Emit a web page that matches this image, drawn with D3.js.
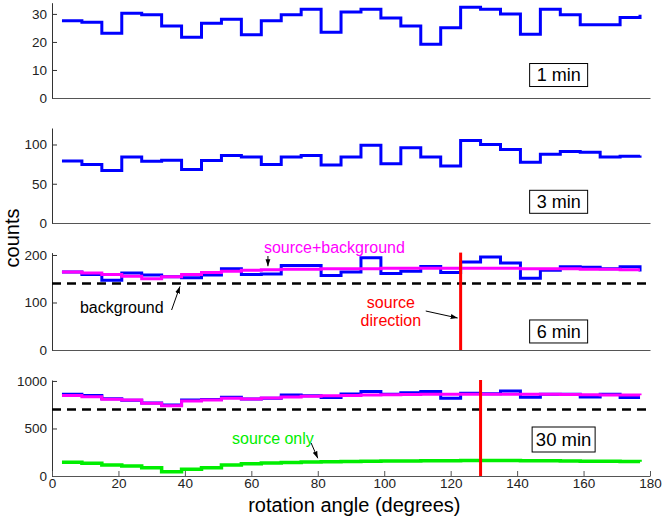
<!DOCTYPE html>
<html>
<head>
<meta charset="utf-8">
<script src="https://d3js.org/d3.v7.min.js"></script>
<style>
  body { margin: 0; background: #fff; }
  svg { font-family: "Liberation Sans", Arial, sans-serif; }
</style>
</head>
<body>
<svg id="chart" width="662" height="521"></svg>
<script>
// bin centres (degrees), 6 degree bins
var angles = d3.range(30).map(function(i) { return 3 + 6 * i; });

var counts1 = [27.6, 27.0, 23.1, 30.2, 29.7, 25.7, 21.7, 26.7, 28.1, 22.6, 27.6, 29.7, 31.7, 23.5, 30.7,
               31.7, 28.5, 25.7, 19.2, 25.1, 32.4, 31.7, 30.0, 22.7, 31.7, 29.7, 26.1, 26.1, 28.7, 29.7];
var counts3 = [79, 74.5, 67, 84, 78.5, 80, 68, 79.5, 86, 84, 74.5, 84, 86, 74, 84,
               99, 75.5, 96, 84, 72.6, 105, 100, 93.5, 77.5, 87.5, 91, 90, 84, 85, 86];
var counts6 = [164, 159, 147, 162, 158, 154, 152, 158, 171, 159, 160, 178, 178, 157, 164,
               194, 161, 166, 176, 163, 185, 196, 183, 151, 168, 175, 174, 171, 175, 165];
var srcBg6 = [164, 162, 159, 155, 150, 154, 159, 163, 166, 168, 169, 170, 170, 171, 171,
              171, 172, 172, 172, 172, 172, 172, 172, 171, 171, 171, 170, 170, 169, 169];
var counts30 = [860, 846, 814, 796, 768, 747, 800, 804, 828, 811, 818, 853, 845, 825, 863,
                888, 860, 877, 888, 818, 870, 865, 895, 828, 860, 860, 832, 860, 825, 825];
var srcBg30 = [846, 835, 807, 800, 765, 740, 789, 800, 818, 811, 821, 832, 838, 843, 848,
               852, 855, 857, 859, 860, 861, 861, 861, 860, 859, 857, 855, 853, 851, 849];
var srcOnly30 = [144, 133, 116, 105, 88, 46, 70, 88, 116, 130, 137, 142, 147, 150, 153,
                 155, 157, 158, 160, 161, 162, 163, 162, 161, 160, 158, 156, 154, 152, 150];
var background6 = 140;
var background30 = 700;
var sourceDir6 = 123;
var sourceDir30 = 129;

var xTicks = [0, 20, 40, 60, 80, 100, 120, 140, 160, 180];
var yTicks1 = [0, 10, 20, 30];
var yTicks3 = [0, 50, 100];
var yTicks6 = [0, 100, 200];
var yTicks30 = [0, 500, 1000];
var timeLabels = ["1 min", "3 min", "6 min", "30 min"];

var svg = d3.select("#chart");
var x = d3.scaleLinear().domain([0, 180]).range([52, 650]);

var panels = [
  { top: 2.7, bottom: 98, ymax: 34, ticks: yTicks1, label: timeLabels[0], box: [152.5, 8.2], bw: 58, bh: 23, fs: 18 },
  { top: 128, bottom: 223, ymax: 121, ticks: yTicks3, label: timeLabels[1], box: [152.5, 27], bw: 58, bh: 23, fs: 18 },
  { top: 252.6, bottom: 350, ymax: 205, ticks: yTicks6, label: timeLabels[2], box: [152.5, 39], bw: 58, bh: 23, fs: 18 },
  { top: 380, bottom: 476, ymax: 1010, ticks: yTicks30, label: timeLabels[3], box: [154, 384], bw: 63, bh: 25, fs: 18.5 }
];

var defs = svg.append("defs");
defs.append("marker").attr("id", "arrow")
  .attr("viewBox", "0 0 10 10").attr("refX", 10).attr("refY", 5)
  .attr("markerWidth", 7).attr("markerHeight", 7).attr("orient", "auto")
  .append("path").attr("d", "M0,1.5 L10,5 L0,8.5 Z").attr("fill", "#000");

function stairs(y) {
  return d3.line().x(function(d, i) { return x(angles[i]); })
    .y(function(d) { return y(d); }).curve(d3.curveStepAfter);
}

panels.forEach(function(p, k) {
  p.y = d3.scaleLinear().domain([0, p.ymax]).range([p.bottom, p.top]);
  var g = svg.append("g");

  var ax = g.append("g").attr("transform", "translate(" + x(0) + ",0)")
    .call(d3.axisLeft(p.y).tickValues(p.ticks).tickFormat(d3.format("d"))
      .tickSize(-5).tickSizeOuter(0).tickPadding(5));
  ax.selectAll("text").attr("font-size", 13.5).attr("fill", "#222").attr("font-family", null);
  ax.selectAll("line, path").attr("stroke", "#333");

  var bx = g.append("g").attr("transform", "translate(0," + p.bottom + ")")
    .call(d3.axisBottom(x).tickValues(k == 3 ? xTicks : []).tickSize(-5).tickSizeOuter(0).tickPadding(2));
  bx.selectAll("text").attr("font-size", 13.5).attr("fill", "#222").attr("font-family", null);
  bx.selectAll("line, path").attr("stroke", "#555");
});

function drawLine(p, data, color, w) {
  svg.append("path").datum(data).attr("d", stairs(p.y))
    .attr("fill", "none").attr("stroke", color).attr("stroke-width", w);
}
function drawBg(p, v) {
  svg.append("line").attr("x1", x(0)).attr("x2", x(180))
    .attr("y1", p.y(v)).attr("y2", p.y(v))
    .attr("stroke", "#000").attr("stroke-width", 2.6).attr("stroke-dasharray", "9,6");
}
function drawDir(p, v) {
  svg.append("line").attr("x1", x(v)).attr("x2", x(v))
    .attr("y1", p.y(p.ymax)).attr("y2", p.y(0))
    .attr("stroke", "#ff0000").attr("stroke-width", 3);
}
function arrow(x1, y1, x2, y2) {
  svg.append("line").attr("x1", x1).attr("y1", y1).attr("x2", x2).attr("y2", y2)
    .attr("stroke", "#000").attr("stroke-width", 1).attr("marker-end", "url(#arrow)");
}
function label(px, py, txt, color, fs) {
  svg.append("text").attr("x", px).attr("y", py).attr("text-anchor", "middle")
    .attr("font-size", fs).attr("fill", color).text(txt);
}

// 1 min, 3 min
drawLine(panels[0], counts1, "#0000ff", 3);
drawLine(panels[1], counts3, "#0000ff", 3);

// 6 min
var p6 = panels[2];
drawLine(p6, counts6, "#0000ff", 3);
drawLine(p6, srcBg6, "#ff00ff", 3);
drawBg(p6, background6);
drawDir(p6, sourceDir6);
label(x(85), 253, "source+background", "#ff00ff", 16);
arrow(x(65), 256, x(65), p6.y(172) - 2);
label(x(21), 313, "background", "#000", 16);
arrow(x(36), 310, x(38.5), p6.y(background6) + 3);
svg.append("text").attr("text-anchor", "middle").attr("fill", "#ff0000").attr("font-size", 16)
  .selectAll("tspan").data(["source", "direction"]).join("tspan")
  .attr("x", x(102)).attr("y", function(d, i) { return 308 + i * 18; }).text(function(d) { return d; });
arrow(x(112.5), 311, x(sourceDir6) - 3, 318);

// 30 min
var p30 = panels[3];
drawLine(p30, counts30, "#0000ff", 3);
drawLine(p30, srcBg30, "#ff00ff", 3);
drawBg(p30, background30);
drawLine(p30, srcOnly30, "#00ee00", 3.5);
drawDir(p30, sourceDir30);
label(x(66.5), 444, "source only", "#00ee00", 16);
arrow(x(78), 443, x(80), p30.y(155) - 3);

// time boxes
panels.forEach(function(p) {
  var cx = x(p.box[0]), cy = p.y(p.box[1]);
  svg.append("rect").attr("x", cx - p.bw / 2).attr("y", cy - p.bh / 2)
    .attr("width", p.bw).attr("height", p.bh)
    .attr("fill", "#fff").attr("stroke", "#000").attr("stroke-width", 1);
  svg.append("text").attr("x", cx).attr("y", cy).attr("dy", "0.36em")
    .attr("text-anchor", "middle").attr("font-size", p.fs).attr("fill", "#000").text(p.label);
});

// axis titles
svg.append("text").attr("transform", "translate(19,238) rotate(-90)")
  .attr("text-anchor", "middle").attr("font-size", 20).attr("fill", "#000").text("counts");
svg.append("text").attr("x", x(91)).attr("y", 512)
  .attr("text-anchor", "middle").attr("font-size", 20).attr("fill", "#000").text("rotation angle (degrees)");
</script>
</body>
</html>
